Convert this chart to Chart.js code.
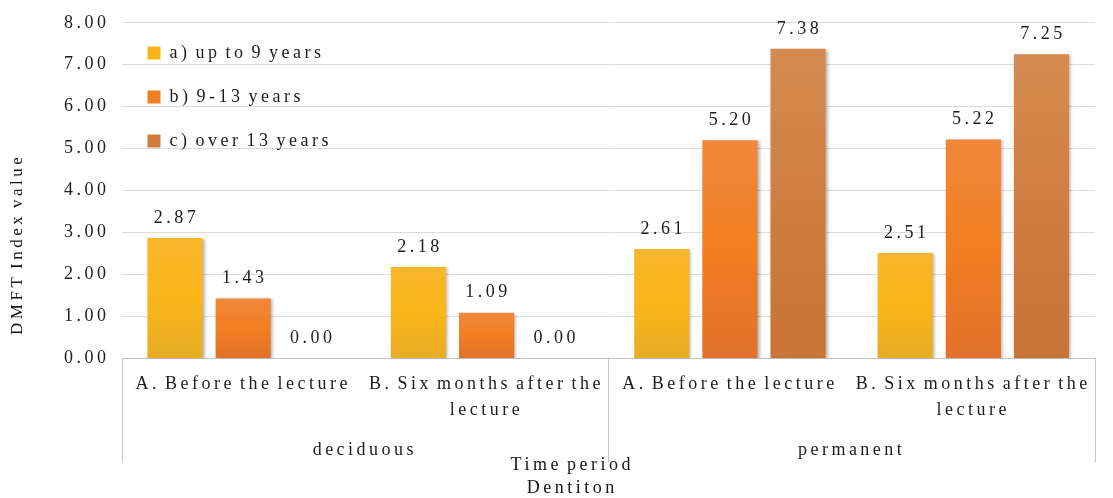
<!DOCTYPE html>
<html>
<head>
<meta charset="utf-8">
<script src="https://cdn.jsdelivr.net/npm/chart.js@4.4.1/dist/chart.umd.min.js"></script>
<style>
  body { margin: 0; background: #fff; }
</style>
</head>
<body>
<canvas id="chart1" width="1113" height="498"></canvas>
<script>
// data
const timePeriods = ['A. Before the lecture', ['B. Six months after the', 'lecture'], 'A. Before the lecture', ['B. Six months after the', 'lecture']];
const dentitions = ['deciduous', 'permanent'];
const seriesNames = ['a) up to 9 years', 'b) 9-13 years', 'c) over 13 years'];
const upTo9 = [2.87, 2.18, 2.61, 2.51];
const from9to13 = [1.43, 1.09, 5.20, 5.22];
const over13 = [0.00, 0.00, 7.38, 7.25];
const yMin = 0, yMax = 8, yStep = 1;

// colours (top, middle, bottom of each bar)
const yellowStops = ['#F8B62C', '#FAB619', '#E6AC26'];
const orangeStops = ['#F0883A', '#F17E22', '#E1712A'];
const brownStops = ['#D58B50', '#CF7E40', '#C77436'];
const serif = 'Liberation Serif, Times New Roman, serif';
const textColor = '#1c1c1c';

function barGradient(stops) {
    return function(context) {
        const chart = context.chart;
        if (!chart.chartArea || context.type !== 'data') return stops[1];
        const y = chart.scales.y;
        const top = y.getPixelForValue(context.raw);
        const bottom = y.getPixelForValue(0);
        if (!(bottom - top > 1)) return stops[1];
        const g = chart.ctx.createLinearGradient(0, top, 0, bottom);
        g.addColorStop(0, stops[0]);
        g.addColorStop(0.5, stops[1]);
        g.addColorStop(1, stops[2]);
        return g;
    };
}

// wide letters, narrow word gaps like the original picture
function setSpacing(ctx) {
    ctx.letterSpacing = '3.5px';
    ctx.wordSpacing = '-3px';
}
const spacing = {
    id: 'spacing',
    beforeUpdate(chart) { setSpacing(chart.ctx); },
    beforeDraw(chart) { setSpacing(chart.ctx); }
};

// bar shadow + value labels
const barLabels = {
    id: 'barLabels',
    beforeDatasetsDraw(chart) {
        const ctx = chart.ctx;
        ctx.save();
        ctx.shadowColor = 'rgba(0,0,0,0.28)';
        ctx.shadowBlur = 3;
        ctx.shadowOffsetX = 2;
        ctx.shadowOffsetY = 1;
    },
    afterDatasetsDraw(chart) {
        const ctx = chart.ctx;
        ctx.restore();
        ctx.save();
        ctx.font = '18px ' + serif;
        ctx.fillStyle = textColor;
        ctx.textAlign = 'center';
        ctx.textBaseline = 'bottom';
        chart.data.datasets.forEach((ds, i) => {
            const meta = chart.getDatasetMeta(i);
            meta.data.forEach((bar, j) => {
                ctx.fillText(ds.data[j].toFixed(2), bar.x + 1.5, bar.y - 11);
            });
        });
        ctx.restore();
    }
};

// separator lines under the axis + axis titles
const axisExtras = {
    id: 'axisExtras',
    afterDraw(chart) {
        const ctx = chart.ctx;
        const area = chart.chartArea;
        const x2 = chart.scales.x2;
        const p0 = x2.getPixelForValue(0);
        const p1 = x2.getPixelForValue(1);
        const lines = [x2.left, (p0 + p1) / 2, x2.right];
        ctx.save();
        ctx.strokeStyle = '#c4c4c4';
        ctx.lineWidth = 1;
        lines.forEach(px => {
            ctx.beginPath();
            ctx.moveTo(Math.round(px) + 0.5, area.bottom);
            ctx.lineTo(Math.round(px) + 0.5, area.bottom + 104);
            ctx.stroke();
        });

        ctx.fillStyle = '#141414';
        ctx.textAlign = 'center';
        ctx.textBaseline = 'middle';
        ctx.font = '18px ' + serif;
        const tx = area.left + (area.right - area.left) * 0.463;
        ctx.fillText('Time period', tx, area.bottom + 107);
        ctx.fillText('Dentiton', tx, area.bottom + 130);

        ctx.font = '17px ' + serif;
        ctx.translate(18, area.top + (area.bottom - area.top) * 0.66);
        ctx.rotate(-Math.PI / 2);
        ctx.fillText('DMFT Index value', 0, 0);
        ctx.restore();
    }
};

const ctx = document.getElementById('chart1').getContext('2d');
const chart1 = new Chart(ctx, {
    type: 'bar',
    data: {
        labels: timePeriods,
        datasets: [{
            label: seriesNames[0],
            data: upTo9,
            backgroundColor: barGradient(yellowStops),
            legendColor: yellowStops[1]
        }, {
            label: seriesNames[1],
            data: from9to13,
            backgroundColor: barGradient(orangeStops),
            legendColor: orangeStops[1]
        }, {
            label: seriesNames[2],
            data: over13,
            backgroundColor: barGradient(brownStops),
            legendColor: brownStops[1]
        }]
    },
    plugins: [spacing, barLabels, axisExtras],
    options: {
        responsive: false,
        animation: false,
        devicePixelRatio: 1,
        categoryPercentage: 0.84,
        barPercentage: 0.81,
        layout: {
            padding: { left: 52, right: 18, top: 22, bottom: 34 }
        },
        scales: {
            y: {
                min: yMin,
                max: yMax,
                ticks: {
                    stepSize: yStep,
                    padding: 12,
                    color: textColor,
                    font: { family: serif, size: 18 },
                    callback: v => v.toFixed(2)
                },
                grid: {
                    drawTicks: false,
                    color: c => c.tick && c.tick.value === 0 ? '#c4c4c4' : '#dcdcdc'
                },
                border: { display: false }
            },
            x: {
                weight: 0,
                ticks: {
                    padding: 5,
                    maxRotation: 0,
                    autoSkip: false,
                    color: textColor,
                    font: { family: serif, size: 18, lineHeight: 1.45 }
                },
                grid: { display: false },
                border: { display: false }
            },
            x2: {
                type: 'category',
                position: 'bottom',
                weight: 1,
                offset: true,
                labels: dentitions,
                ticks: {
                    padding: 2,
                    maxRotation: 0,
                    color: textColor,
                    font: { family: serif, size: 18, lineHeight: 1.3 }
                },
                grid: { display: false },
                border: { display: false }
            }
        },
        plugins: {
            legend: {
                position: 'chartArea',
                align: 'start',
                title: {
                    display: true,
                    text: ' ',
                    font: { size: 10 },
                    padding: { top: 6, bottom: 0 }
                },
                labels: {
                    boxWidth: 13,
                    boxHeight: 13,
                    padding: 26,
                    color: textColor,
                    font: { family: serif, size: 18 },
                    generateLabels: chart => chart.data.datasets.map((ds, i) => ({
                        text: ds.label,
                        fillStyle: ds.legendColor,
                        strokeStyle: ds.legendColor,
                        fontColor: textColor,
                        lineWidth: 0,
                        hidden: false,
                        datasetIndex: i
                    }))
                }
            },
            tooltip: { enabled: false }
        }
    }
});
</script>
</body>
</html>
